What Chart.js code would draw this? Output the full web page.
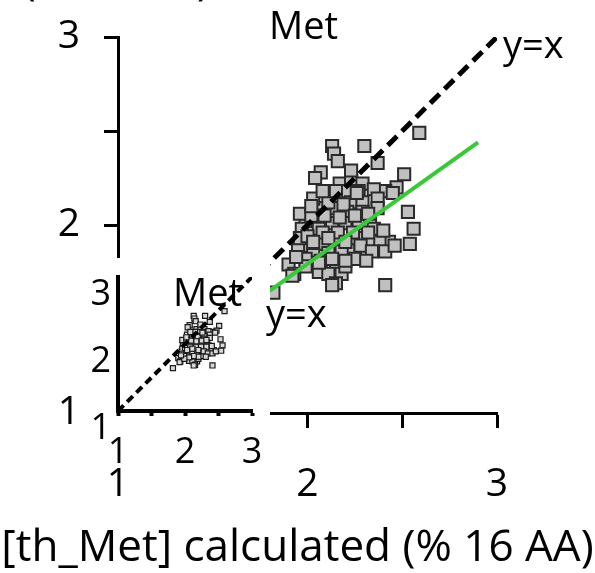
<!DOCTYPE html>
<html>
<head>
<meta charset="utf-8">
<script src="https://cdn.jsdelivr.net/npm/chart.js@4"></script>
<style>
  html, body { margin: 0; padding: 0; background: #fff; }
  #wrap { position: relative; width: 595px; height: 573px; overflow: hidden; font-family: 'Open Sans', sans-serif; color: #000; }
  canvas { position: absolute; }
  #main { left: 0; top: 0; }
  #inset { left: 88px; top: 258px; background: #fff; }
  .txt { position: absolute; white-space: nowrap; line-height: 1; }
</style>
</head>
<body>
<div id="wrap">
  <canvas id="main" width="595" height="573"></canvas>
  <canvas id="inset" width="182" height="207"></canvas>
  <div class="txt" style="left:23px; top:-44px; font-size:43px;">(% 16 AA)</div>
  <div class="txt" style="left:269px; top:5px; font-size:38px;">Met</div>
  <div class="txt" style="left:503px; top:24px; font-size:38px;">y=x</div>
  <div class="txt" style="left:173px; top:272px; font-size:38px;">Met</div>
  <div class="txt" style="left:266px; top:293px; font-size:38px;">y=x</div>
  <div class="txt" style="left:0; width:595px; text-align:center; top:522px; font-size:44px;">[th_Met] calculated (% 16 AA)</div>
</div>
<script>
const metX = [2.59, 2.30, 2.13, 2.14, 2.16, 2.37, 2.07, 2.04, 2.51, 2.17, 2.23, 2.29, 2.47, 2.41, 2.45,
  2.35, 2.27, 2.20, 2.13, 2.23, 2.29, 2.37, 2.05, 2.13, 2.21, 2.29, 2.37, 1.99, 2.06, 2.13,
  2.20, 2.27, 2.33, 2.35, 2.53, 2.56, 2.54, 2.43, 2.38, 2.32, 2.23, 2.16, 2.08, 2.01, 1.95,
  1.97, 1.96, 2.03, 2.11, 2.18, 2.28, 1.90, 1.93, 2.06, 2.15, 2.18, 2.11, 2.15, 2.13, 2.41,
  2.03, 2.11, 2.26, 2.00, 2.24, 2.16, 2.08, 2.32, 2.40, 2.19, 1.92, 2.20, 2.25, 2.07, 1.99,
  1.96, 2.02, 2.09, 2.17, 2.25, 2.32, 2.03, 2.11, 2.20, 2.28, 2.34, 2.41, 2.46, 2.23, 2.26,
  2.20, 2.13, 2.06, 1.99, 1.94, 2.31, 2.15, 2.08, 2.02, 1.82];
const metY = [2.49, 2.42, 2.42, 2.38, 2.34, 2.33, 2.28, 2.25, 2.27, 2.22, 2.24, 2.22, 2.20, 2.18, 2.17,
  2.19, 2.18, 2.18, 2.14, 2.12, 2.12, 2.14, 2.09, 2.09, 2.07, 2.07, 2.09, 2.02, 1.98, 2.01,
  2.01, 2.01, 2.02, 1.98, 2.07, 1.98, 1.90, 1.91, 1.91, 1.90, 1.87, 1.90, 1.90, 1.89, 1.89,
  1.98, 1.93, 1.84, 1.85, 1.86, 1.86, 1.79, 1.74, 1.75, 1.79, 1.74, 1.74, 1.69, 1.68, 1.68,
  2.14, 2.12, 1.93, 1.94, 1.96, 1.96, 1.96, 1.96, 1.97, 2.11, 1.73, 1.78, 1.82, 1.81, 1.82,
  2.06, 2.05, 2.05, 2.04, 2.05, 2.06, 1.91, 1.93, 1.91, 1.89, 1.86, 1.86, 1.89, 2.29, 2.17,
  1.81, 1.82, 1.80, 1.78, 1.83, 1.81, 2.18, 2.18, 2.10, 1.64];

// regression line (green) and y=x line
const fitX = [1.80, 2.90];
const fitY = [1.65, 2.44];
const diagX = [1, 3];
const diagY = [1, 3];

const tickValues = [1, 1.5, 2, 2.5, 3];

const pts = metX.map((x, i) => ({ x: x, y: metY[i] }));
const fit = fitX.map((x, i) => ({ x: x, y: fitY[i] }));
const diag = diagX.map((x, i) => ({ x: x, y: diagY[i] }));

const intLabel = v => (Number.isInteger(v) ? String(v) : '');

function axis(opts) {
  return {
    type: 'linear',
    min: 1,
    max: 3,
    afterBuildTicks: s => { s.ticks = tickValues.map(v => ({ value: v })); },
    border: { display: true, color: '#000', width: opts.bw },
    grid: { drawOnChartArea: false, drawTicks: opts.drawTicks, tickLength: opts.tl, tickWidth: opts.bw, tickColor: '#000' },
    ticks: {
      callback: intLabel,
      color: '#000',
      padding: opts.pad,
      labelOffset: opts.lo || 0,
      maxRotation: 0,
      autoSkip: false,
      font: { family: 'Open Sans', size: opts.fs }
    },
    afterFit: s => {
      // keep the plot box fixed; layout padding decides where it sits
      s.paddingTop = 0; s.paddingBottom = 0; s.paddingLeft = 0; s.paddingRight = 0;
      opts.fit(s);
    }
  };
}

new Chart(document.getElementById('main'), {
  type: 'scatter',
  data: {
    datasets: [
      { type: 'line', data: fit, borderColor: 'rgb(57,200,57)', borderWidth: 4, pointRadius: 0, order: 0 },
      { type: 'line', data: diag, borderColor: '#000', borderWidth: 5, borderDash: [13, 7], pointRadius: 0, order: 1 },
      { data: pts, pointStyle: 'rect', pointRadius: 8.6, backgroundColor: '#c0c0c0', borderColor: '#2a2a2a', borderWidth: 2, order: 2 }
    ]
  },
  options: {
    responsive: false,
    animation: false,
    layout: { padding: { top: 37, right: 98, left: 0, bottom: 0 } },
    plugins: { legend: { display: false }, tooltip: { enabled: false } },
    scales: {
      x: axis({ bw: 3, drawTicks: true, tl: 15, pad: 33, fs: 39, fit: s => { s.height = 160; } }),
      y: axis({ bw: 3, drawTicks: true, tl: 14, pad: 24, fs: 39, fit: s => { s.width = 118; } })
    }
  }
});

new Chart(document.getElementById('inset'), {
  type: 'scatter',
  data: {
    datasets: [
      { type: 'line', data: diag, borderColor: '#000', borderWidth: 4, borderDash: [8, 5], pointRadius: 0, order: 0 },
      { data: pts, pointStyle: 'rect', pointRadius: 3.6, backgroundColor: '#d8d8d8', borderColor: '#1a1a1a', borderWidth: 1.2, order: 1 }
    ]
  },
  options: {
    responsive: false,
    animation: false,
    layout: { padding: { top: 19, right: 18, left: 0, bottom: 0 } },
    plugins: { legend: { display: false }, tooltip: { enabled: false } },
    scales: {
      x: axis({ bw: 4, drawTicks: true, tl: 5, pad: 15, fs: 36, fit: s => { s.height = 54; } }),
      y: axis({ bw: 4, drawTicks: false, tl: 0, pad: 7, lo: 18, fs: 36, fit: s => { s.width = 30; } })
    }
  }
});
</script>
</body>
</html>
